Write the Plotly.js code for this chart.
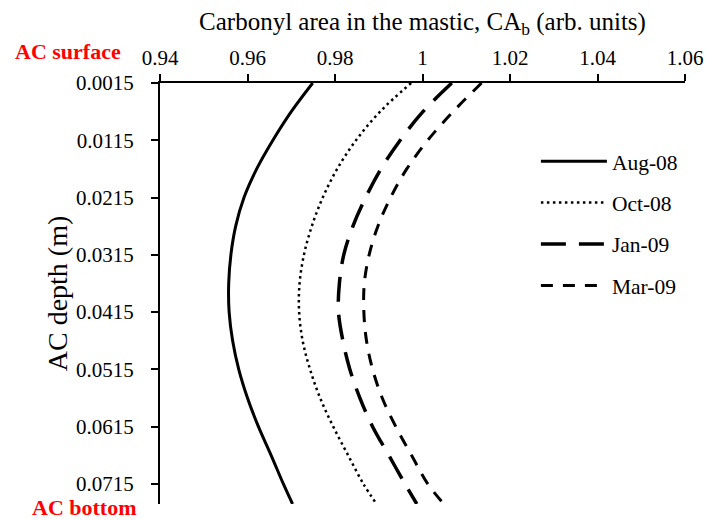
<!DOCTYPE html>
<html>
<head>
<meta charset="utf-8">
<script src="https://cdn.plot.ly/plotly-3.0.1.min.js"></script>
<style>
  html, body { margin: 0; padding: 0; background: #ffffff; }
  #chart { width: 707px; height: 519px; }
</style>
</head>
<body>
<div id="chart"></div>
<script>
// Depth below the asphalt concrete surface (m)
const depth = [0.0015, 0.0065, 0.0115, 0.0165, 0.0215, 0.0265, 0.0315, 0.0365,
               0.0415, 0.0465, 0.0515, 0.0565, 0.0615, 0.0665, 0.0715, 0.075];

// Carbonyl area in the mastic, CAb (arb. units), one profile per sampling date
const aug08 = [0.9749, 0.9700, 0.9658, 0.9621, 0.9592, 0.9573, 0.9562, 0.9557,
               0.9558, 0.9566, 0.9580, 0.9600, 0.9625, 0.9654, 0.9682, 0.9703];
const oct08 = [0.9974, 0.9903, 0.9848, 0.9805, 0.9772, 0.9747, 0.9729, 0.9719,
               0.9718, 0.9726, 0.9743, 0.9766, 0.9796, 0.9830, 0.9865, 0.9895];
const jan09 = [1.0067, 1.0001, 0.9949, 0.9905, 0.9870, 0.9841, 0.9820, 0.9810,
               0.9808, 0.9818, 0.9834, 0.9857, 0.9886, 0.9923, 0.9960, 0.9987];
const mar09 = [1.0135, 1.0070, 1.0012, 0.9964, 0.9927, 0.9898, 0.9878, 0.9867,
               0.9866, 0.9872, 0.9886, 0.9908, 0.9939, 0.9975, 1.0012, 1.0049];

const seriesNames = ['Aug-08', 'Oct-08', 'Jan-09', 'Mar-09'];

// Axis ticks
const xTickVals = [0.94, 0.96, 0.98, 1.00, 1.02, 1.04, 1.06];
const xTickText = ['0.94', '0.96', '0.98', '1', '1.02', '1.04', '1.06'];
const yTickVals = [0.0015, 0.0115, 0.0215, 0.0315, 0.0415, 0.0515, 0.0615, 0.0715];
const yTickText = ['0.0015', '0.0115', '0.0215', '0.0315', '0.0415', '0.0515', '0.0615', '0.0715'];

const serif = '"Liberation Serif", "Times New Roman", Times, serif';

const lineStyles = [
  { color: '#000000', width: 3,   dash: 'solid' },
  { color: '#000000', width: 2.5, dash: '2.5px,3.5px' },
  { color: '#000000', width: 3.5, dash: '25px,13px' },
  { color: '#000000', width: 3,   dash: '12px,10px' }
];

const profiles = [aug08, oct08, jan09, mar09];

const traces = profiles.map((vals, i) => ({
  type: 'scatter',
  mode: 'lines',
  name: seriesNames[i],
  legendgroup: 'g' + i,
  x: vals,
  y: depth,
  line: Object.assign({ shape: 'spline', smoothing: 1 }, lineStyles[i]),
  hoverinfo: 'x+y+name'
}));

const layout = {
  width: 707,
  height: 519,
  margin: { l: 160, r: 22, t: 83, b: 15, pad: 0 },
  paper_bgcolor: '#ffffff',
  plot_bgcolor: '#ffffff',
  font: { family: serif, size: 21, color: '#000000' },
  showlegend: true,
  legend: {
    x: 0.716, xanchor: 'left',
    y: 0.863, yanchor: 'top',
    bgcolor: 'rgba(0,0,0,0)',
    borderwidth: 0,
    font: { family: serif, size: 21.5, color: '#000000' },
    tracegroupgap: 10.5,
    traceorder: 'grouped',
    itemwidth: 66
  },
  xaxis: {
    side: 'top',
    range: [0.94, 1.06],
    tickmode: 'array',
    tickvals: xTickVals,
    ticktext: xTickText,
    ticks: 'outside',
    ticklen: 7,
    tickwidth: 2,
    tickcolor: '#000000',
    showline: true,
    linewidth: 2,
    linecolor: '#000000',
    showgrid: false,
    zeroline: false,
    ticklabelstandoff: 1,
    tickfont: { family: serif, size: 21, color: '#000000' },
    title: {
      text: 'Carbonyl area in the mastic, CA<sub>b</sub> (arb. units)',
      font: { family: serif, size: 25, color: '#000000' },
      standoff: 8
    }
  },
  yaxis: {
    range: [0.075, 0.0015],
    tickmode: 'array',
    tickvals: yTickVals,
    ticktext: yTickText,
    ticks: 'outside',
    ticklen: 7,
    tickwidth: 2,
    tickcolor: '#000000',
    showline: true,
    linewidth: 2,
    linecolor: '#000000',
    showgrid: false,
    zeroline: false,
    ticklabelstandoff: 13,
    tickfont: { family: serif, size: 21, color: '#000000' },
    title: {
      text: 'AC depth (m)',
      font: { family: serif, size: 28, color: '#000000' },
      standoff: 0
    }
  },
  annotations: [
    {
      text: '<b>AC surface</b>',
      xref: 'paper', yref: 'paper',
      x: -0.176, y: 1.076,
      xanchor: 'center', yanchor: 'middle',
      showarrow: false,
      font: { family: serif, size: 22, color: '#ff0000' }
    },
    {
      text: '<b>AC bottom</b>',
      xref: 'paper', yref: 'paper',
      x: -0.144, y: -0.008,
      xanchor: 'center', yanchor: 'middle',
      showarrow: false,
      font: { family: serif, size: 22, color: '#ff0000' }
    }
  ]
};

Plotly.newPlot('chart', traces, layout, { displayModeBar: false, staticPlot: true });
</script>
</body>
</html>
